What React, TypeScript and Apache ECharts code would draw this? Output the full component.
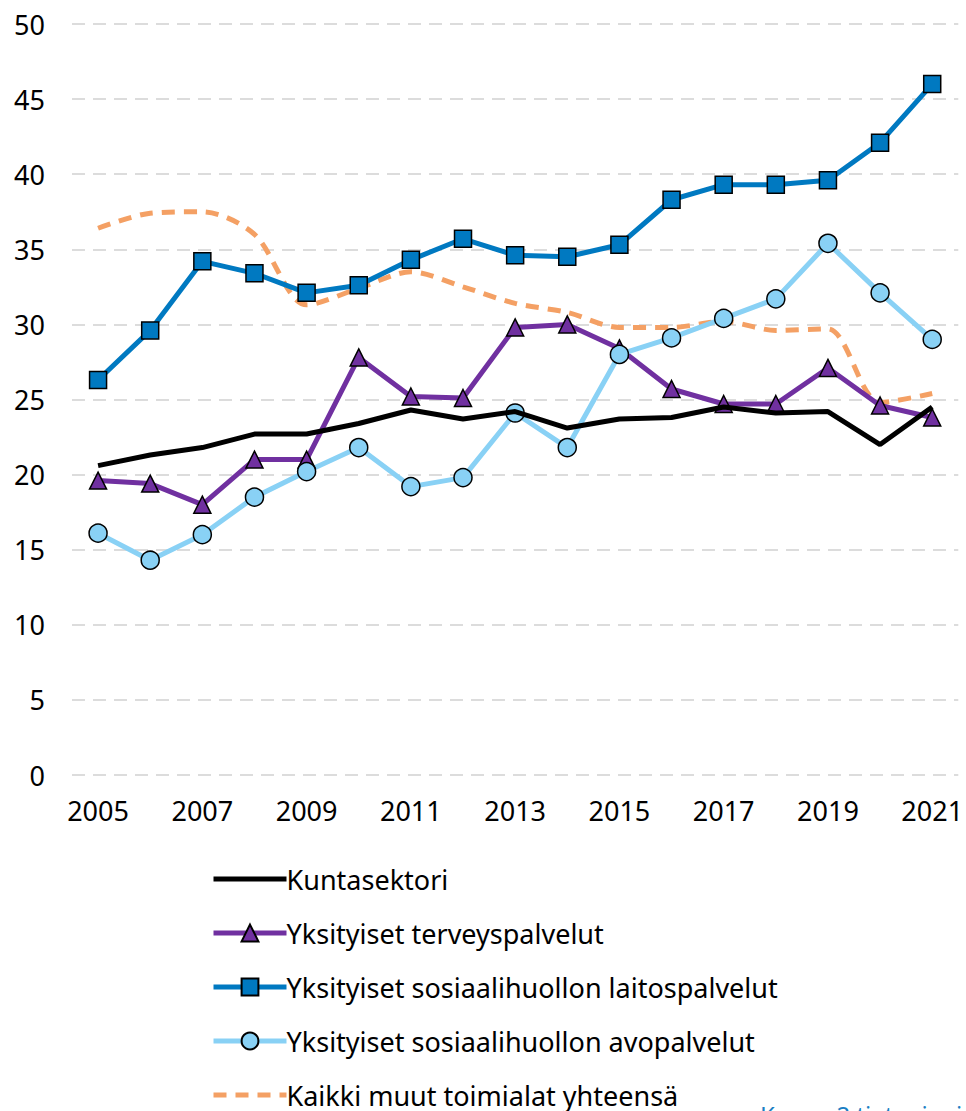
import React, { useEffect, useRef } from "react";
import * as echarts from "echarts";

const years = ["2005","2006","2007","2008","2009","2010","2011","2012","2013","2014","2015","2016","2017","2018","2019","2020","2021"];
const kunta = [20.6, 21.3, 21.8, 22.7, 22.7, 23.4, 24.3, 23.7, 24.2, 23.1, 23.7, 23.8, 24.5, 24.1, 24.2, 22.0, 24.5];
const terveys = [19.6, 19.4, 18.0, 21.0, 21.0, 27.8, 25.2, 25.1, 29.8, 30.0, 28.4, 25.7, 24.7, 24.7, 27.1, 24.6, 23.8];
const laitos = [26.3, 29.6, 34.2, 33.4, 32.1, 32.6, 34.3, 35.7, 34.6, 34.5, 35.3, 38.3, 39.3, 39.3, 39.6, 42.1, 46.0];
const avo = [16.1, 14.3, 16.0, 18.5, 20.2, 21.8, 19.2, 19.8, 24.1, 21.8, 28.0, 29.1, 30.4, 31.7, 35.4, 32.1, 29.0];
const muut = [36.4, 37.4, 37.5, 36.0, 31.3, 32.4, 33.5, 32.5, 31.4, 30.8, 29.8, 29.8, 30.2, 29.6, 29.7, 24.8, 25.4];
const names = [
  "Kuntasektori",
  "Yksityiset terveyspalvelut",
  "Yksityiset sosiaalihuollon laitospalvelut",
  "Yksityiset sosiaalihuollon avopalvelut",
  "Kaikki muut toimialat yhteensä",
];
const linkText = "Kuvan 2 tietoaineisto";

const FONT = "'Noto Sans', 'Open Sans', sans-serif";

export default function App() {
  const ref = useRef<HTMLDivElement>(null);
  useEffect(() => {
    if (!ref.current) return;
    const chart = echarts.init(ref.current, undefined, { renderer: "svg" });
    const markerBorder = { borderColor: "#000", borderWidth: 1.5 };
    chart.setOption({
      animation: false,
      textStyle: { fontFamily: FONT },
      grid: { left: 72, right: 4, top: 24, bottom: 336, containLabel: false },
      xAxis: {
        type: "category",
        data: years,
        boundaryGap: true,
        axisLine: { show: false },
        axisTick: { show: false },
        axisLabel: { interval: 1, color: "#000", fontSize: 27, margin: 22, fontFamily: FONT },
      },
      yAxis: {
        type: "value",
        min: 0,
        max: 50,
        interval: 5,
        axisLine: { show: false },
        axisTick: { show: false },
        axisLabel: { color: "#000", fontSize: 27, margin: 27, fontFamily: FONT },
        splitLine: { lineStyle: { color: "#dcdcdc", width: 2, type: [13, 8] } },
      },
      legend: {
        orient: "vertical",
        left: 206,
        top: 859,
        height: 320,
        itemWidth: 73,
        itemHeight: 21,
        itemGap: 24,
        lineStyle: { width: 5 },
        textStyle: { fontSize: 27, color: "#000", fontFamily: FONT, padding: [0, 0, 0, -5], lineHeight: 30 },
        data: [
          { name: names[0], itemStyle: { opacity: 0 } },
          { name: names[1] },
          { name: names[2] },
          { name: names[3] },
          { name: names[4], itemStyle: { opacity: 0 } },
        ],
      },
      series: [
        {
          name: names[0], type: "line", data: kunta, symbol: "none",
          lineStyle: { color: "#000", width: 5 }, itemStyle: { color: "#000" }, z: 5,
        },
        {
          name: names[1], type: "line", data: terveys, symbol: "triangle", symbolSize: 17,
          lineStyle: { color: "#7030a0", width: 5 }, itemStyle: { color: "#7030a0", ...markerBorder }, z: 4,
        },
        {
          name: names[2], type: "line", data: laitos, symbol: "rect", symbolSize: 17,
          lineStyle: { color: "#0079c1", width: 5 }, itemStyle: { color: "#0079c1", ...markerBorder }, z: 3,
        },
        {
          name: names[3], type: "line", data: avo, symbol: "circle", symbolSize: 18,
          lineStyle: { color: "#89d1f5", width: 5 }, itemStyle: { color: "#89d1f5", ...markerBorder }, z: 4,
        },
        {
          name: names[4], type: "line", data: muut, symbol: "none", smooth: 0.3,
          lineStyle: { color: "#f4a064", width: 5, type: [13, 9] }, itemStyle: { color: "#f4a064" }, z: 2,
        },
      ],
      graphic: [
        {
          type: "text", left: 760, top: 1102,
          style: { text: linkText, fontSize: 24, fill: "#1a7fc4", fontFamily: FONT },
        },
      ],
    });
    return () => chart.dispose();
  }, []);
  return (
    <div ref={ref} style={{ position: "absolute", left: 0, top: 0, width: 966, height: 1111 }} />
  );
}
